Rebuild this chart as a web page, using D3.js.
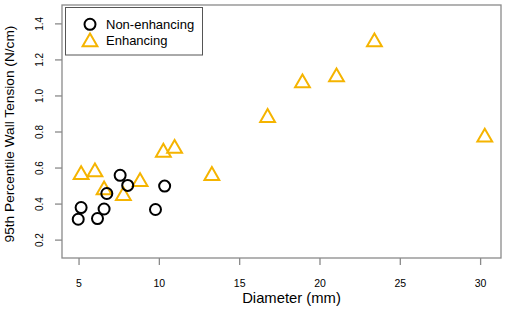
<!DOCTYPE html>
<html>
<head>
<meta charset="utf-8">
<script src="https://cdn.jsdelivr.net/npm/d3@7"></script>
<style>
  body { margin: 0; background: #fff; }
  svg { display: block; font-family: "Liberation Sans", Arial, sans-serif; }
</style>
</head>
<body>
<svg id="chart" width="510" height="309"></svg>
<script>
// diameter (mm) and 95th percentile wall tension (N/cm)
var nonEnhDiameter = [4.98, 5.16, 6.18, 6.59, 6.76, 7.59, 8.06, 10.36, 9.79]
var nonEnhTension  = [0.313, 0.378, 0.317, 0.370, 0.456, 0.557, 0.501, 0.497, 0.367]

var enhDiameter = [5.16, 6.02, 6.59, 7.79, 8.83, 10.28, 10.98, 13.3, 16.77, 18.94, 21.06, 23.42, 30.29]
var enhTension  = [0.560, 0.575, 0.475, 0.443, 0.521, 0.684, 0.706, 0.555, 0.877, 1.069, 1.102, 1.297, 0.768]

var xTicks = [5, 10, 15, 20, 25, 30]
var yTicks = [0.2, 0.4, 0.6, 0.8, 1.0, 1.2, 1.4]
var legendLabels = ["Non-enhancing", "Enhancing"]

var axisGray = "#8a8a8a",
    gold = "#f5b400"

// plot box (window.top is reserved, so prefix names)
var pLeft = 62, pRight = 501, pTop = 5, pBottom = 258

var svg = d3.select("#chart")

var x = d3.scaleLinear().domain([3.97, 31.3]).range([pLeft, pRight])
var y = d3.scaleLinear().domain([0.098, 1.502]).range([pBottom, pTop])

// box
svg.append("rect")
    .attr("x", pLeft).attr("y", pTop)
    .attr("width", pRight - pLeft).attr("height", pBottom - pTop)
    .attr("fill", "none").attr("stroke", axisGray).attr("stroke-width", 1.3)

// x axis
var xAxis = svg.append("g")
    .attr("transform", "translate(0," + pBottom + ")")
    .call(d3.axisBottom(x).tickValues(xTicks).tickSize(7).tickPadding(15).tickFormat(d3.format("d")))
xAxis.select(".domain").remove()
xAxis.selectAll(".tick line").attr("stroke", axisGray).attr("stroke-width", 1.3)
xAxis.selectAll(".tick text").attr("font-size", "10.5px").attr("fill", "#000")
    .attr("font-family", "Liberation Sans, Arial, sans-serif")

// y axis
var yAxis = svg.append("g")
    .attr("transform", "translate(" + pLeft + ",0)")
    .call(d3.axisLeft(y).tickValues(yTicks).tickSize(7).tickFormat(d3.format(".1f")))
yAxis.select(".domain").remove()
yAxis.selectAll(".tick line").attr("stroke", axisGray).attr("stroke-width", 1.3)
yAxis.selectAll(".tick text")
    .attr("font-size", "10px").attr("fill", "#000")
    .attr("font-family", "Liberation Sans, Arial, sans-serif")
    .attr("x", null).attr("dy", null)
    .attr("text-anchor", "middle")
    .attr("transform", "translate(-19.5,0) rotate(-90)")

// axis titles
svg.append("text")
    .attr("x", (pLeft + pRight) / 2 + 10).attr("y", 303)
    .attr("text-anchor", "middle").attr("font-size", "14.8px")
    .text("Diameter (mm)")

svg.append("text")
    .attr("transform", "translate(14,134) rotate(-90)")
    .attr("text-anchor", "middle").attr("font-size", "13.7px")
    .text("95th Percentile Wall Tension (N/cm)")

// triangle path (R pch 2 shape), centroid at the point
function triPath(s) {
    var r = 1.555 * s, xc = 1.347 * s, yc = 0.778 * s
    return "M0," + (-r) + "L" + xc + "," + yc + "L" + (-xc) + "," + yc + "Z"
}

svg.append("g").selectAll("path")
    .data(enhDiameter)
    .enter().append("path")
    .attr("d", triPath(5.5))
    .attr("transform", function (d, i) { return "translate(" + x(d) + "," + y(enhTension[i]) + ")" })
    .attr("fill", "none").attr("stroke", gold).attr("stroke-width", 2)

svg.append("g").selectAll("circle")
    .data(nonEnhDiameter)
    .enter().append("circle")
    .attr("cx", function (d) { return x(d) })
    .attr("cy", function (d, i) { return y(nonEnhTension[i]) })
    .attr("r", 5.5)
    .attr("fill", "none").attr("stroke", "#000").attr("stroke-width", 2)

// legend
var lg = svg.append("g")
lg.append("rect")
    .attr("x", 65.5).attr("y", 7.5).attr("width", 137).attr("height", 47.5)
    .attr("fill", "#fff").attr("stroke", "#555").attr("stroke-width", 1)

lg.append("circle")
    .attr("cx", 90).attr("cy", 24.3).attr("r", 5.5)
    .attr("fill", "none").attr("stroke", "#000").attr("stroke-width", 2)
lg.append("path")
    .attr("d", triPath(5.5))
    .attr("transform", "translate(90,42)")
    .attr("fill", "none").attr("stroke", gold).attr("stroke-width", 2)

lg.selectAll("text")
    .data(legendLabels)
    .enter().append("text")
    .attr("x", 106)
    .attr("y", function (d, i) { return 29 + i * 16.4 })
    .attr("font-size", "13px")
    .text(function (d) { return d })
</script>
</body>
</html>
